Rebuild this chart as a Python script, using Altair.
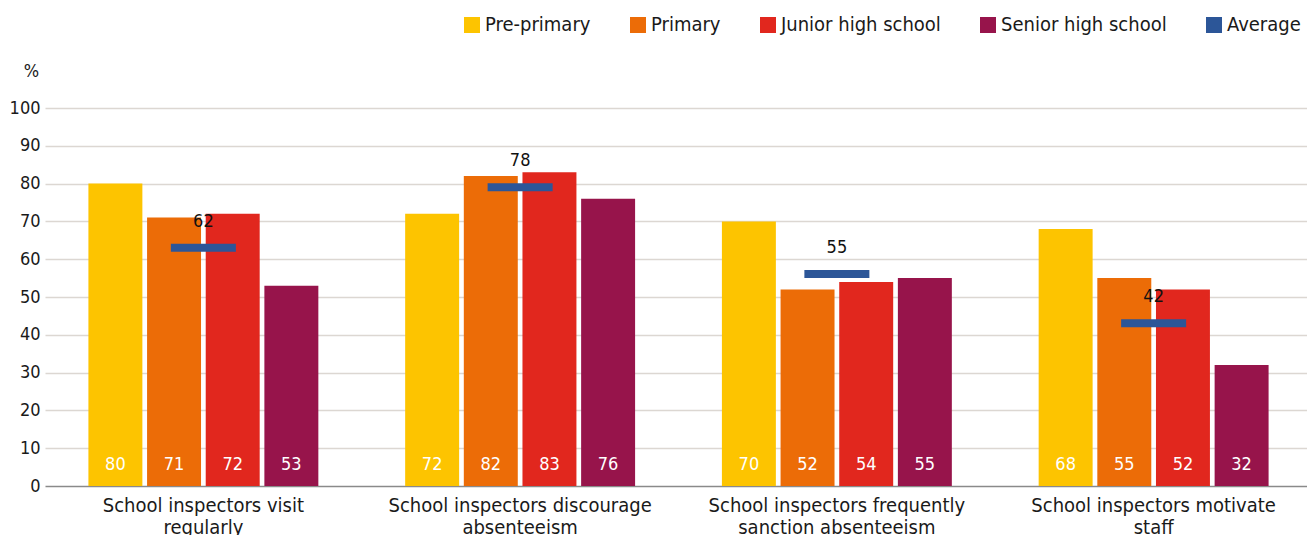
import altair as alt
import pandas as pd

categories = [
    "School inspectors visit|regularly",
    "School inspectors discourage|absenteeism",
    "School inspectors frequently|sanction absenteeism",
    "School inspectors motivate|staff",
]
series = ["Pre-primary", "Primary", "Junior high school", "Senior high school"]
pre_primary = [80, 72, 70, 68]
primary = [71, 82, 52, 55]
junior_high = [72, 83, 54, 52]
senior_high = [53, 76, 55, 32]
average = [62, 78, 55, 42]
colors = ["#FDC400", "#EC6C07", "#E1271E", "#97144B", "#2C5698"]
y_ticks = [0, 10, 20, 30, 40, 50, 60, 70, 80, 90, 100]

FONT = "DejaVu Sans Condensed, Liberation Sans Narrow, sans-serif"

rows = []
for s, vals in zip(series, [pre_primary, primary, junior_high, senior_high]):
    for c, v in zip(categories, vals):
        rows.append({"category": c, "series": s, "value": v})
df = pd.DataFrame(rows)
avg_df = pd.DataFrame({"category": categories, "value": average})

y_scale = alt.Scale(domain=[0, 100])
y_axis = alt.Axis(
    values=y_ticks, tickCount=11, title="%", titleAngle=0, titleX=-29, titleY=-37,
    titleAlign="center", titleBaseline="middle", titleFontSize=18,
    titleFontWeight="normal", titleColor="#1a1a1a", titleFont=FONT,
    domain=False, ticks=False, labelPadding=20, labelFontSize=18,
    labelColor="#1a1a1a", labelFont=FONT, labelOverlap=False,
    gridColor={"condition": {"test": "datum.value === 0", "value": "#8a8a8a"}, "value": "#dcd7d2"},
    gridWidth={"condition": {"test": "datum.value === 0", "value": 1.6}, "value": 1.3},
)

x_enc = alt.X(
    "category:N",
    sort=categories,
    scale=alt.Scale(range=[-15, 1252], paddingInner=0, paddingOuter=0),
    axis=alt.Axis(
        title=None, domain=False, ticks=False, grid=False, labelAngle=0,
        labelPadding=9, labelFontSize=20, labelColor="#1a1a1a", labelFont=FONT,
        labelExpr="split(datum.label, '|')", labelLineHeight=22, labelLimit=0,
    ),
)
y_enc = alt.Y("value:Q", scale=y_scale, axis=y_axis)
y_base = alt.Y("base:Q", scale=y_scale, axis=y_axis)
xoff = alt.XOffset("series:N", sort=series,
                   scale=alt.Scale(domain=series, paddingInner=0.08, paddingOuter=0.74))

bars = alt.Chart(df).mark_bar().encode(
    x=x_enc,
    xOffset=xoff,
    y=y_enc,
    color=alt.Color(
        "series:N",
        scale=alt.Scale(domain=series + ["Average"], range=colors),
        legend=alt.Legend(
            title=None, orient="none", direction="horizontal", legendX=402, legendY=-93,
            symbolType="square", symbolSize=256, symbolStrokeWidth=0,
            symbolOpacity=1, labelFontSize=20, labelFont=FONT, labelColor="#1a1a1a",
            labelOffset=3, columnPadding=37, labelLimit=0,
        ),
    ),
)

bar_labels = alt.Chart(df).transform_calculate(base="0").mark_text(
    dy=-21, baseline="middle", align="center", color="white", fontSize=18, font=FONT
).encode(
    x=x_enc,
    xOffset=xoff,
    y=y_base,
    text="value:Q",
)

avg_tick = alt.Chart(avg_df).mark_tick(
    size=65, thickness=8, yOffset=-4, color=colors[4], opacity=1
).encode(x=x_enc, y=y_enc)

avg_labels = alt.Chart(avg_df).mark_text(
    dy=-30, baseline="middle", align="center", color="#111111", fontSize=18, font=FONT
).encode(x=x_enc, y=y_enc, text="value:Q")

chart = alt.layer(bars, bar_labels, avg_tick, avg_labels).properties(
    width=1240, height=378,
    autosize=alt.AutoSizeParams(type="none"),
    padding={"left": 60, "top": 108, "right": 7, "bottom": 49},
    background="white",
).configure_view(stroke=None)

chart.save("out.html", embed_options={"renderer": "svg", "actions": False})
